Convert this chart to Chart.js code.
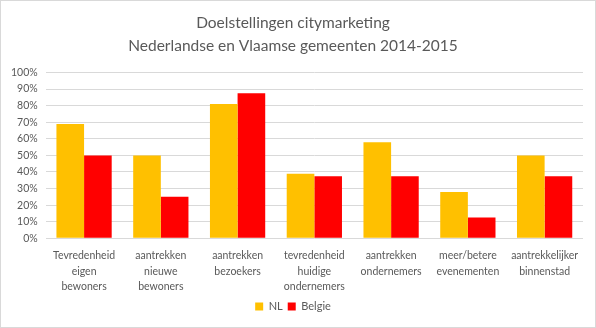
<!DOCTYPE html>
<html>
    <head>
        <meta charset="utf-8">
        <script src="https://cdn.jsdelivr.net/npm/chart.js@4/dist/chart.umd.min.js"></script>
        <style type="text/css">
            body{
                margin: 0px;
                background: white;
            }
            #box{
                width: 596px;
                height: 328px;
                box-sizing: border-box;
                border: 1px solid #d9d9d9;
            }
        </style>
    </head>
    <body>
        <div id="box">
            <canvas id="myChart" width="594" height="326"></canvas>
        </div>
        <script>
            var categories = [
                ["Tevredenheid", "eigen", "bewoners"],
                ["aantrekken", "nieuwe", "bewoners"],
                ["aantrekken", "bezoekers"],
                ["tevredenheid", "huidige", "ondernemers"],
                ["aantrekken", "ondernemers"],
                ["meer/betere", "evenementen"],
                ["aantrekkelijker", "binnenstad"]
            ];
            var nlValues = [0.69, 0.50, 0.81, 0.39, 0.58, 0.28, 0.50];
            var belgieValues = [0.50, 0.25, 0.875, 0.375, 0.375, 0.125, 0.375];
            var titleLines = ["Doelstellingen citymarketing", "Nederlandse en Vlaamse gemeenten 2014-2015"];

            var textColor = '#595959';
            var fontName = "Lato, 'Open Sans', sans-serif";

            var ctx = document.getElementById("myChart").getContext('2d');
            var chart = new Chart(ctx, {
                type: 'bar',
                data: {
                    labels: categories,
                    datasets: [{
                        label: 'NL',
                        data: nlValues,
                        backgroundColor: '#FFC000'
                    }, {
                        label: 'Belgie',
                        data: belgieValues,
                        backgroundColor: '#FF0000'
                    }]
                },
                options: {
                    responsive: false,
                    animation: false,
                    layout: {
                        padding: {left: 2, right: 12, top: 8, bottom: 5}
                    },
                    datasets: {
                        bar: {
                            categoryPercentage: 0.72,
                            barPercentage: 1.0
                        }
                    },
                    plugins: {
                        title: {
                            display: true,
                            text: titleLines,
                            color: textColor,
                            font: {family: fontName, size: 15.5, weight: 'normal', lineHeight: 1.5},
                            padding: {top: 2, bottom: 15}
                        },
                        legend: {
                            position: 'bottom',
                            labels: {
                                color: textColor,
                                font: {family: fontName, size: 11},
                                boxWidth: 8,
                                boxHeight: 8,
                                padding: 5
                            }
                        },
                        tooltip: {enabled: false}
                    },
                    scales: {
                        x: {
                            grid: {display: false},
                            border: {display: false},
                            ticks: {
                                color: textColor,
                                padding: 2,
                                font: {family: fontName, size: 10.5, lineHeight: 1.45},
                                maxRotation: 0,
                                autoSkip: false
                            }
                        },
                        y: {
                            min: 0,
                            max: 1,
                            grid: {color: '#d9d9d9', drawTicks: false},
                            border: {display: false},
                            ticks: {
                                stepSize: 0.1,
                                autoSkip: false,
                                color: textColor,
                                padding: 8,
                                font: {family: fontName, size: 10.5},
                                callback: function(v){ return Math.round(v * 100) + '%'; }
                            }
                        }
                    }
                }
            });
        </script>
    </body>
</html>
